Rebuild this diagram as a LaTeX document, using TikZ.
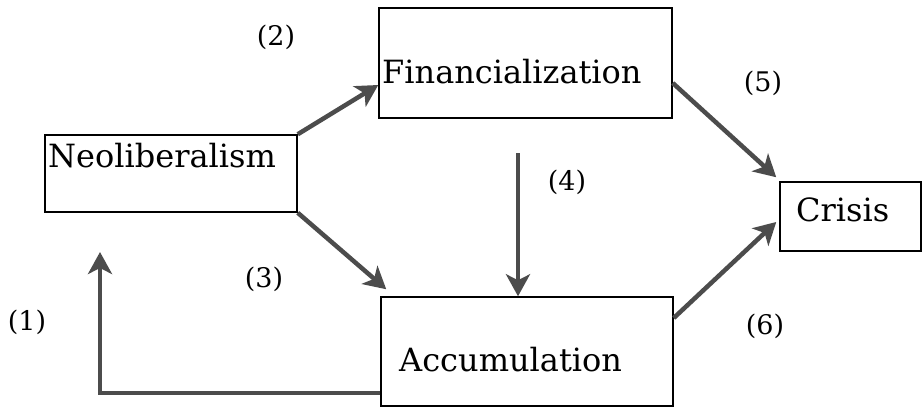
\documentclass[tikz,border=0pt]{standalone}
\usepackage{fontspec}
\setmainfont{DejaVu Serif}
\usetikzlibrary{arrows.meta}
\begin{document}
\begin{tikzpicture}[x=1pt,y=-1pt,
  box/.style={draw=black, line width=1.5pt, inner sep=0pt},
  boxtext/.style={anchor=base west, inner sep=0pt, font=\fontsize{32}{38}\selectfont},
  numlabel/.style={inner sep=0pt, font=\fontsize{27}{32}\selectfont},
  arr/.style={draw=black!70, line width=4.5pt, line join=miter,
    -{Stealth[length=22pt,width=24pt,inset=6pt]}}]
\useasboundingbox (0,0) rectangle (923,408);
% boxes
\node[box, minimum width=252pt, minimum height=77pt] (neo) at (171,173.5) {};
\node[box, minimum width=293pt, minimum height=110pt] (fin) at (525.5,63) {};
\node[box, minimum width=292pt, minimum height=109pt] (acc) at (527,351.5) {};
\node[box, minimum width=141pt, minimum height=69pt] (cri) at (850.5,216.5) {};
% box texts
\node[boxtext] (tneo) at (48,167) {Neoliberalism};
\node[boxtext] (tfin) at (382,83) {Financialization};
\node[boxtext] (tacc) at (399,371) {Accumulation};
\node[boxtext] (tcri) at (796,221) {Crisis};
% number labels
\node[numlabel] (l1) at (27,322) {(1)};
\node[numlabel] (l2) at (276,37) {(2)};
\node[numlabel] (l3) at (264,279) {(3)};
\node[numlabel] (l4) at (567,182) {(4)};
\node[numlabel] (l5) at (763,83) {(5)};
\node[numlabel] (l6) at (765,326) {(6)};
% connectors
\coordinate (c4) at (518,153);
\coordinate (c1) at (100,252);
\draw[arr] (neo.north east) -- ([yshift=-22pt]fin.west);
\draw[arr] (neo.south east) -- ([xshift=6pt,yshift=7pt]acc.north west);
\draw[arr] (c4) -- (c4 |- acc.north);
\draw[arr] ([yshift=-20pt]fin.east) -- ([xshift=-3pt,yshift=4pt]cri.north west);
\draw[arr] ([yshift=33.5pt]acc.east) -- ([xshift=-3pt,yshift=-5.5pt]cri.west);
\draw[arr] ([yshift=-41.5pt]acc.west) -| (c1);
\end{tikzpicture}
\end{document}
